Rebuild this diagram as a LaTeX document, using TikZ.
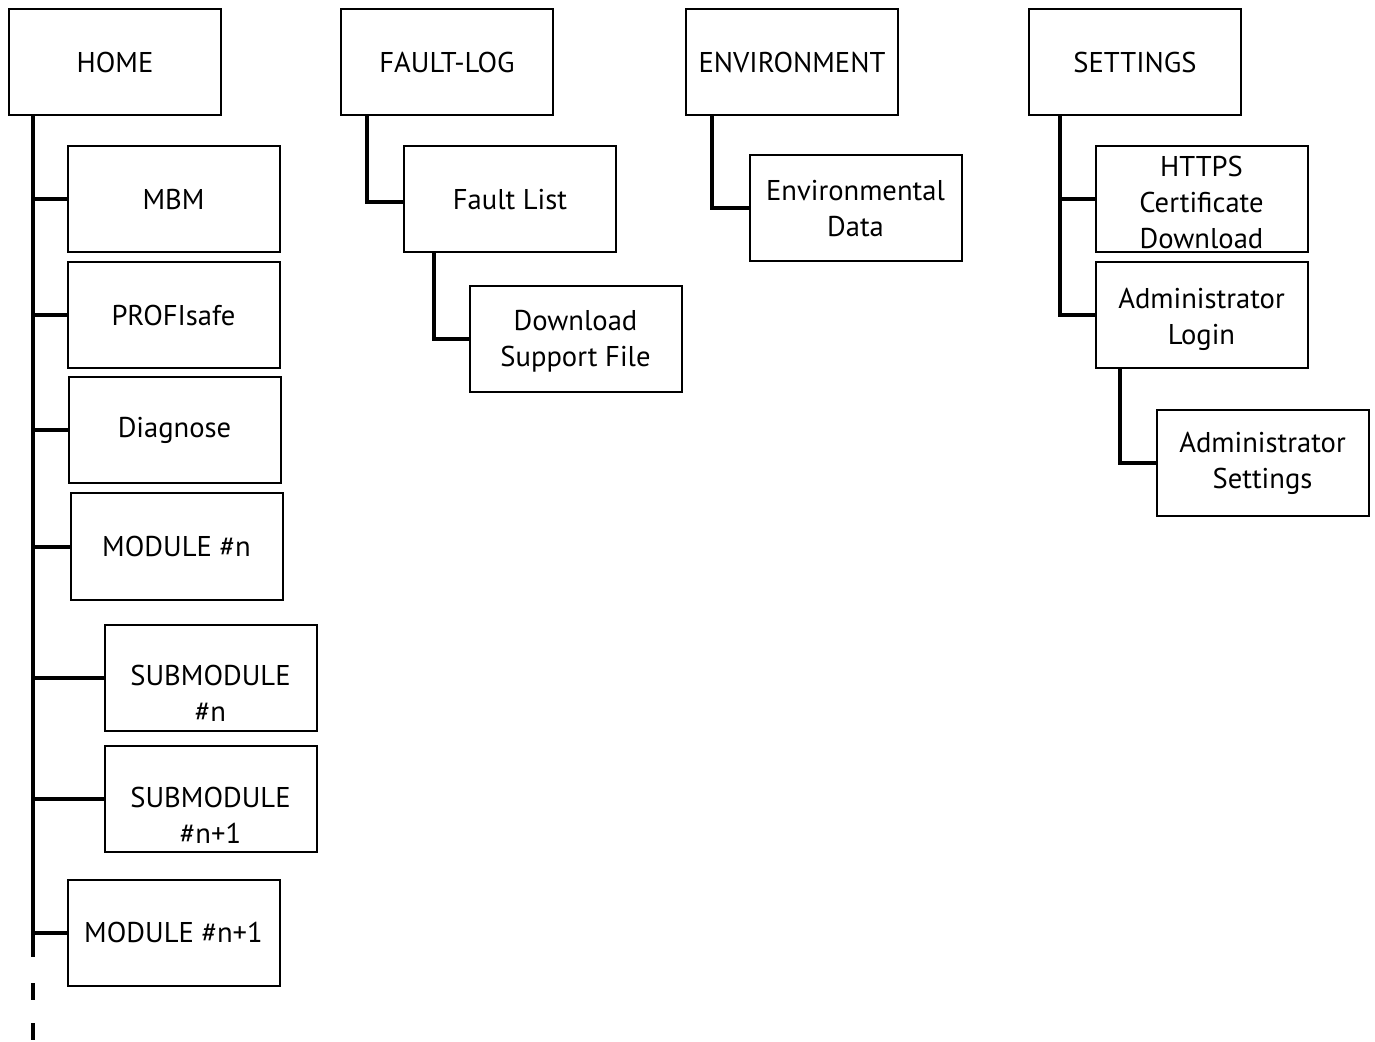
\documentclass[tikz,border=0pt]{standalone}
\usepackage{fontspec}
\setmainfont{PT Sans}
\begin{document}
\begin{tikzpicture}[x=0.5pt,y=-0.5pt,
  txt/.style={inner sep=0pt, align=center, font=\fontsize{14.3pt}{18pt}\selectfont},
  box/.style={txt, draw, line width=1pt, rectangle, minimum width=106pt, minimum height=53pt},
  conn/.style={line width=2pt}]
\useasboundingbox (0,0) rectangle (1375,1042);
% top-level
\node[box] (home) at (115,62) {HOME};
\node[box] (fault) at (447,62) {FAULT-LOG};
\node[box] (env) at (792,62) {ENVIRONMENT};
\node[box] (set) at (1135,62) {SETTINGS};
% home children
\node[box] (mbm) at (173.5,199.5) {MBM};
\node[box] (profi) at (173.5,315.5) {PROFIsafe};
\node[box] (diag) at (174.5,430.5) {Diagnose};
\node[box] (mod) at (176.5,546.5) {MODULE \#n};
\node[box] (sub1) at (210.5,677.5) {};
\node[txt] (sub1t) at ([yshift=-8pt]sub1.center) {SUBMODULE\\\#n};
\node[box] (sub2) at (210.5,799) {};
\node[txt] (sub2t) at ([yshift=-8pt]sub2.center) {SUBMODULE\\\#n+1};
\node[box] (mod2) at (173.5,932.5) {MODULE \#n+1};
% fault children
\node[box] (flist) at (510,199.5) {Fault List};
\node[box] (dsf) at (575.5,339.5) {};
\node[txt] (dsft) at ([yshift=-1pt]dsf.center) {Download\\Support File};
% env children
\node[box] (envd) at (855.5,208.5) {Environmental\\Data};
% settings children
\node[box] (https) at (1201.5,199.5) {};
\node[txt] (httpst) at ([yshift=-1.5pt]https.center) {HTTPS\\Certificate\\Download};
\node[box] (alog) at (1201.5,315.5) {};
\node[txt] (alogt) at ([yshift=-2pt]alog.center) {Administrator\\Login};
\node[box] (aset) at (1262.5,463) {Administrator\\Settings};
% trunk coordinates
\coordinate (ht) at (33,115);
\coordinate (hb) at (33,957);
\coordinate (hd1) at (33,983);
\coordinate (hd2) at (33,1042);
\coordinate (ft) at (367,115);
\coordinate (flt) at (434,252);
\coordinate (et) at (712,115);
\coordinate (st) at (1060,115);
\coordinate (alt) at (1120,368);
% home trunk
\draw[conn] (ht) -- (hb);
\draw[conn, dash pattern=on 8.5pt off 11.5pt] (hd1) -- (hd2);
\foreach \n in {mbm,profi,diag,mod,sub1,sub2,mod2}
  \draw[conn] (ht |- \n.west) -- (\n.west);
% fault log
\draw[conn] (ft) |- ([yshift=-1.25pt]flist.west);
\draw[conn] (flt) |- (dsf.west);
% env
\draw[conn] (et) |- (envd.west);
% settings
\draw[conn] (st) |- (alog.west);
\draw[conn] (st |- https.west) -- (https.west);
\draw[conn] (alt) |- (aset.west);
\end{tikzpicture}
\end{document}
